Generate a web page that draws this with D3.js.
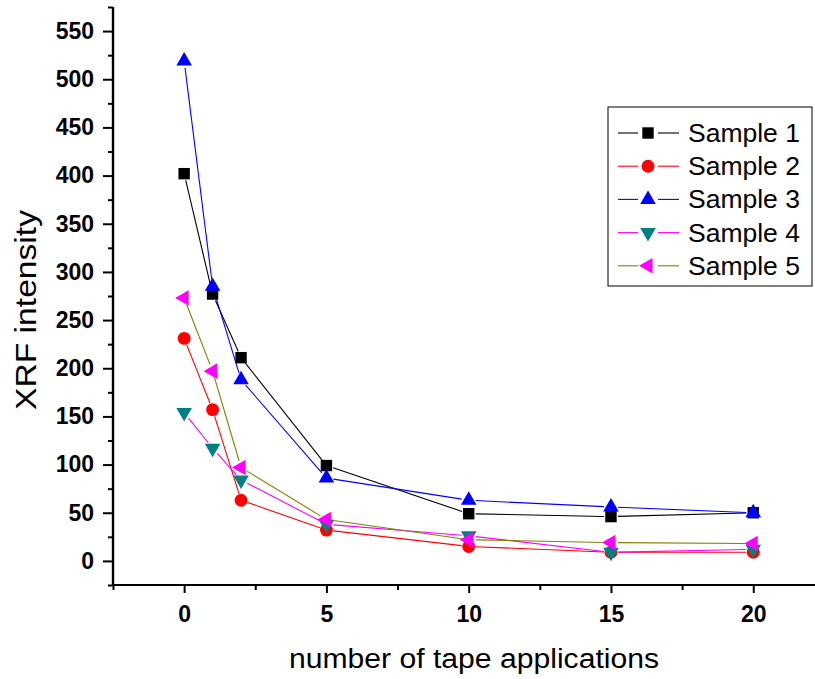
<!DOCTYPE html>
<html>
<head>
<meta charset="utf-8">
<script src="https://cdn.jsdelivr.net/npm/d3@7"></script>
<style>
  body { margin: 0; background: #fff; }
  svg { display: block; font-family: "Liberation Sans", Arial, sans-serif; }
</style>
</head>
<body>
<svg id="chart" width="815" height="679"></svg>
<script>
// tape applications (x) and XRF intensity per sample
const applications = [0, 1, 2, 5, 10, 15, 20];
const sample1 = [402, 277, 211, 99, 49, 46, 50];
const sample2 = [231, 157, 63, 32, 15, 9, 9];
const sample3 = [519, 285, 188, 86, 63, 56, 50];
const sample4 = [154, 117, 84, 38, 26, 9, 12];
const sample5 = [273, 197, 97, 43, 22, 19, 18];
const sampleNames = ['Sample 1', 'Sample 2', 'Sample 3', 'Sample 4', 'Sample 5'];
const xTicks = [0, 5, 10, 15, 20];
const yTicks = d3.range(0, 551, 50);

const series = [
  { name: sampleNames[0], values: sample1, line: '#000000', fill: '#000000', shape: d3.symbolSquare, rot: 0, size: 130 },
  { name: sampleNames[1], values: sample2, line: '#ff0000', fill: '#ff0000', shape: d3.symbolCircle, rot: 0, size: 130 },
  { name: sampleNames[2], values: sample3, line: '#0000ff', fill: '#0000ff', shape: d3.symbolTriangle, rot: 0, size: 105 },
  { name: sampleNames[3], values: sample4, line: '#ff00ff', fill: '#008080', shape: d3.symbolTriangle, rot: 180, size: 105 },
  { name: sampleNames[4], values: sample5, line: '#808000', fill: '#ff00ff', shape: d3.symbolTriangle, rot: -90, size: 105 },
];

const svg = d3.select('#chart');
const plotLeft = 113, plotRight = 815, plotTop = 7, plotBottom = 585;

const x = d3.scaleLinear().domain([-2.5, 22.17]).range([plotLeft, plotRight]);
const y = d3.scaleLinear().domain([-25, 575]).range([plotBottom, plotTop]);

// X axis: major + minor ticks, outward
const xAxis = svg.append('g').attr('transform', `translate(0,${plotBottom})`);
xAxis.call(d3.axisBottom(x).tickValues(d3.range(-2.5, 22, 2.5).filter(v => !xTicks.includes(v)))
    .tickSize(5).tickFormat(''));
xAxis.append('g').call(d3.axisBottom(x).tickValues(xTicks).tickSize(8).tickPadding(13).tickFormat(d3.format('d')));
xAxis.selectAll('.domain').attr('d', `M${plotLeft},0H${plotRight}`);

// Y axis
const yAxis = svg.append('g').attr('transform', `translate(${plotLeft},0)`);
yAxis.call(d3.axisLeft(y).tickValues(d3.range(-25, 576, 50)).tickSize(5).tickFormat(''));
yAxis.append('g').call(d3.axisLeft(y).tickValues(yTicks).tickSize(10).tickPadding(9).tickFormat(d3.format('d')));
yAxis.selectAll('.domain').attr('d', `M0,${plotTop}V${plotBottom}`);

svg.selectAll('.domain').attr('stroke', '#000').attr('stroke-width', 2.2);
svg.selectAll('.tick line').attr('stroke', '#000').attr('stroke-width', 2);
svg.selectAll('.tick text')
  .attr('font-family', '"Liberation Sans", Arial, sans-serif')
  .attr('font-size', 23).attr('font-weight', 'bold').attr('fill', '#000');

// Axis titles
svg.append('text')
  .attr('x', 474).attr('y', 668)
  .attr('text-anchor', 'middle')
  .attr('font-size', 27)
  .attr('textLength', 370).attr('lengthAdjust', 'spacingAndGlyphs')
  .text('number of tape applications');
svg.append('text')
  .attr('transform', 'translate(36,310) rotate(-90)')
  .attr('text-anchor', 'middle')
  .attr('font-size', 29)
  .attr('textLength', 200).attr('lengthAdjust', 'spacingAndGlyphs')
  .text('XRF intensity');

// Lines, broken around each marker the way Origin draws them
const gap = 7;
const plot = svg.append('g');
series.forEach(s => {
  const pts = applications.map((a, i) => [x(a), y(s.values[i])]);
  const segs = d3.pairs(pts).map(([p, q]) => {
    const dx = q[0] - p[0], dy = q[1] - p[1];
    const len = Math.hypot(dx, dy);
    const ux = dx / len, uy = dy / len;
    return len > 2 * gap ? [p[0] + ux * gap, p[1] + uy * gap, q[0] - ux * gap, q[1] - uy * gap] : null;
  }).filter(Boolean);
  plot.append('g').selectAll('line').data(segs).join('line')
    .attr('x1', d => d[0]).attr('y1', d => d[1])
    .attr('x2', d => d[2]).attr('y2', d => d[3])
    .attr('stroke', s.line).attr('stroke-width', 1.1);
});
series.forEach(s => {
  plot.append('g').selectAll('path').data(applications).join('path')
    .attr('d', d3.symbol().type(s.shape).size(s.size))
    .attr('transform', (a, i) => `translate(${x(a)},${y(s.values[i])}) rotate(${s.rot})`)
    .attr('fill', s.fill);
});

// Legend
const legend = svg.append('g').attr('transform', 'translate(608,107)');
legend.append('rect').attr('width', 204).attr('height', 179)
  .attr('fill', '#fff').attr('stroke', '#000').attr('stroke-width', 1);
const rows = legend.selectAll('g.row').data(series).join('g')
  .attr('class', 'row')
  .attr('transform', (d, i) => `translate(0,${26 + i * 33.2})`);
rows.append('line').attr('x1', 10).attr('x2', 30).attr('stroke', d => d.line).attr('stroke-width', 1.1);
rows.append('line').attr('x1', 50).attr('x2', 71).attr('stroke', d => d.line).attr('stroke-width', 1.1);
rows.append('path')
  .attr('d', d => d3.symbol().type(d.shape).size(d.size)())
  .attr('transform', d => `translate(40,0) rotate(${d.rot})`)
  .attr('fill', d => d.fill);
rows.append('text').attr('x', 80).attr('y', 9)
  .attr('font-size', 26.5).text(d => d.name);
</script>
</body>
</html>
